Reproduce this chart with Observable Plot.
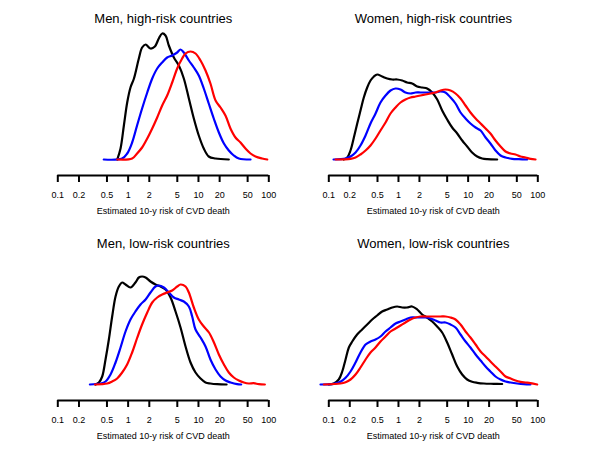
<!DOCTYPE html>
<html>
<head>
<meta charset="utf-8">
<script src="https://cdn.jsdelivr.net/npm/d3@7"></script>
<script src="https://cdn.jsdelivr.net/npm/@observablehq/plot@0.6"></script>
<style>
  body { margin: 0; background: #fff; }
  #chart { position: relative; width: 600px; height: 450px; background: #fff; }
  #chart svg { position: absolute; }
</style>
</head>
<body>
<div id="chart"></div>
<script>
// ---- Text ----
const panelTitles = ["Men, high-risk countries", "Women, high-risk countries", "Men, low-risk countries", "Women, low-risk countries"];
const xAxisLabel = "Estimated 10-y risk of CVD death";
const tickValues = [0.1, 0.2, 0.5, 1, 2, 5, 10, 20, 50, 100];
const tickLabels = ["0.1", "0.2", "0.5", "1", "2", "5", "10", "20", "50", "100"];
const seriesColors = ["#000000", "#0000ff", "#ff0000"];

// ---- Data: [risk %, density] ----
// Men, high-risk countries
const menHighBlack = [[0.70,0],[0.78,0.11],[0.87,0.34],[0.97,0.57],[1.08,0.72],[1.21,0.81],[1.42,1.01],[1.58,1.12],[1.77,1.15],[2.08,1.11],[2.40,1.13],[2.73,1.21],[3.05,1.26],[3.40,1.24],[3.79,1.14],[4.47,1.02],[5.26,0.94],[6.19,0.81],[7.30,0.61],[8.59,0.41],[10.1,0.24],[11.9,0.11],[14.0,0.03],[17.5,0.01],[27,0]];
const menHighBlue = [[0.45,0],[0.82,0.01],[0.97,0.06],[1.14,0.17],[1.34,0.34],[1.58,0.51],[1.87,0.67],[2.20,0.81],[2.59,0.91],[3.05,0.97],[3.59,1.02],[4.23,1.04],[4.98,1.07],[5.55,1.10],[6.19,1.07],[7.30,0.99],[8.59,0.92],[10.1,0.84],[11.9,0.71],[14.0,0.56],[16.5,0.41],[19.5,0.27],[23.0,0.16],[27.0,0.09],[31.8,0.04],[37.5,0.01],[55,0]];
const menHighRed = [[0.70,0],[1.14,0.01],[1.34,0.06],[1.58,0.12],[1.87,0.21],[2.20,0.31],[2.59,0.42],[3.05,0.54],[3.59,0.64],[4.23,0.77],[4.98,0.91],[5.86,1.01],[6.54,1.06],[7.71,1.08],[9.08,1.06],[10.7,0.99],[12.6,0.89],[14.8,0.76],[17.5,0.59],[20.6,0.52],[24.2,0.44],[28.5,0.31],[33.6,0.22],[39.6,0.17],[46.6,0.11],[55,0.06],[64.7,0.03],[80.5,0.01],[95,0]];
// Women, high-risk countries
const womenHighBlack = [[0.163,0],[0.184,0.02],[0.205,0.09],[0.229,0.22],[0.256,0.36],[0.285,0.49],[0.318,0.62],[0.356,0.72],[0.397,0.79],[0.444,0.83],[0.495,0.85],[0.583,0.83],[0.689,0.81],[0.813,0.80],[0.959,0.80],[1.13,0.79],[1.33,0.77],[1.57,0.76],[1.86,0.73],[2.19,0.72],[2.58,0.71],[3.05,0.67],[3.60,0.60],[4.24,0.49],[5.00,0.40],[5.90,0.32],[6.97,0.26],[8.22,0.19],[9.69,0.13],[11.4,0.07],[13.5,0.03],[15.9,0.01],[18.8,0.003],[26.1,0]];
const womenHighBlue = [[0.117,0],[0.174,0.01],[0.205,0.03],[0.242,0.07],[0.285,0.14],[0.337,0.24],[0.397,0.36],[0.469,0.46],[0.552,0.57],[0.652,0.64],[0.769,0.69],[0.908,0.71],[1.07,0.70],[1.26,0.67],[1.49,0.66],[1.76,0.67],[2.07,0.67],[2.45,0.67],[2.89,0.67],[3.40,0.67],[4.01,0.68],[4.73,0.67],[5.59,0.62],[6.59,0.56],[7.78,0.47],[9.17,0.41],[10.8,0.36],[12.8,0.32],[15.1,0.29],[17.8,0.22],[20.9,0.16],[24.7,0.09],[29.2,0.04],[34.4,0.02],[42.9,0.007],[53.5,0.003],[70.5,0]];
const womenHighRed = [[0.125,0],[0.205,0.007],[0.242,0.02],[0.285,0.05],[0.337,0.09],[0.397,0.14],[0.469,0.21],[0.552,0.29],[0.652,0.37],[0.769,0.46],[0.908,0.52],[1.07,0.57],[1.26,0.60],[1.49,0.62],[1.76,0.63],[2.07,0.64],[2.45,0.65],[2.89,0.66],[3.40,0.67],[4.01,0.69],[4.73,0.70],[5.59,0.69],[6.59,0.66],[7.78,0.61],[9.17,0.54],[10.8,0.47],[12.8,0.41],[15.1,0.36],[17.8,0.31],[20.9,0.26],[24.7,0.19],[29.2,0.13],[34.4,0.08],[40.6,0.06],[47.9,0.05],[56.5,0.03],[66.7,0.02],[78.7,0.007],[92.8,0]];
// Men, low-risk countries
const menLowBlack = [[0.344,0],[0.384,0.02],[0.428,0.08],[0.477,0.25],[0.532,0.45],[0.593,0.68],[0.662,0.88],[0.738,0.98],[0.822,1.02],[0.918,1.00],[1.08,0.97],[1.27,1.02],[1.42,1.07],[1.58,1.08],[1.77,1.07],[2.08,1.03],[2.45,1.00],[2.89,0.98],[3.40,0.95],[4.01,0.87],[4.72,0.73],[5.56,0.57],[6.55,0.38],[7.71,0.22],[9.08,0.12],[10.7,0.06],[12.6,0.02],[14.8,0.01],[18.5,0.003],[25.1,0]];
const menLowBlue = [[0.286,0],[0.405,0.01],[0.477,0.03],[0.562,0.10],[0.662,0.22],[0.780,0.37],[0.918,0.53],[1.08,0.65],[1.27,0.73],[1.50,0.80],[1.77,0.85],[2.08,0.92],[2.45,0.98],[2.73,0.99],[3.22,0.97],[3.79,0.92],[4.47,0.87],[5.26,0.85],[6.19,0.83],[7.30,0.78],[8.14,0.68],[9.08,0.55],[10.7,0.47],[12.6,0.38],[14.8,0.25],[17.5,0.15],[20.6,0.08],[24.3,0.04],[28.6,0.02],[35.5,0.003],[40.5,0]];
const menLowRed = [[0.337,0],[0.504,0.01],[0.593,0.03],[0.698,0.06],[0.822,0.12],[0.968,0.20],[1.14,0.32],[1.35,0.47],[1.58,0.60],[1.87,0.72],[2.20,0.82],[2.59,0.87],[3.05,0.90],[3.59,0.92],[4.23,0.94],[4.98,0.98],[5.56,1.00],[6.55,0.98],[7.30,0.92],[8.59,0.77],[10.1,0.65],[11.9,0.58],[14.1,0.52],[16.6,0.42],[19.5,0.30],[23.0,0.20],[27.0,0.12],[31.8,0.07],[37.5,0.04],[44.2,0.02],[52.0,0.01],[61.2,0.013],[72.2,0.003],[87.9,0]];
// Women, low-risk countries
const womenLowBlack = [[0.100,0],[0.118,0.01],[0.139,0.05],[0.156,0.13],[0.174,0.25],[0.194,0.37],[0.217,0.43],[0.255,0.50],[0.301,0.55],[0.356,0.60],[0.420,0.65],[0.494,0.69],[0.583,0.73],[0.689,0.75],[0.813,0.77],[0.958,0.78],[1.13,0.77],[1.33,0.77],[1.57,0.78],[1.86,0.75],[2.19,0.70],[2.58,0.67],[3.05,0.63],[3.59,0.58],[4.24,0.52],[5.00,0.42],[5.90,0.30],[6.97,0.18],[8.21,0.10],[9.68,0.05],[11.4,0.027],[13.5,0.017],[16.8,0.01],[23.4,0.007],[30.8,0.005]];
const womenLowBlue = [[0.076,0],[0.118,0.007],[0.147,0.027],[0.174,0.067],[0.205,0.13],[0.242,0.22],[0.285,0.32],[0.337,0.40],[0.397,0.43],[0.468,0.45],[0.552,0.48],[0.652,0.53],[0.769,0.57],[0.908,0.61],[1.07,0.63],[1.26,0.65],[1.49,0.67],[1.76,0.67],[2.07,0.67],[2.44,0.67],[2.88,0.66],[3.40,0.64],[4.01,0.62],[4.73,0.62],[5.58,0.60],[6.59,0.57],[7.78,0.50],[9.17,0.43],[10.8,0.37],[12.8,0.30],[15.1,0.24],[17.8,0.18],[20.9,0.13],[24.7,0.08],[29.2,0.05],[34.4,0.03],[40.6,0.02],[50.6,0.01],[63.1,0.003],[78.5,0]];
const womenLowRed = [[0.085,0],[0.147,0.01],[0.174,0.023],[0.205,0.05],[0.242,0.10],[0.285,0.17],[0.337,0.25],[0.397,0.32],[0.468,0.37],[0.552,0.43],[0.652,0.48],[0.769,0.53],[0.908,0.56],[1.07,0.59],[1.26,0.62],[1.49,0.65],[1.76,0.67],[2.07,0.68],[2.44,0.68],[2.88,0.68],[3.40,0.68],[4.01,0.68],[4.73,0.68],[5.58,0.67],[6.59,0.65],[7.78,0.60],[9.17,0.53],[10.8,0.47],[12.8,0.40],[15.1,0.33],[17.8,0.28],[20.9,0.23],[24.7,0.18],[29.2,0.13],[34.4,0.08],[40.6,0.06],[47.9,0.04],[56.5,0.027],[66.7,0.02],[78.5,0.013],[98,0]];

const panelSeries = [
  [menHighBlack, menHighBlue, menHighRed],
  [womenHighBlack, womenHighBlue, womenHighRed],
  [menLowBlack, menLowBlue, menLowRed],
  [womenLowBlack, womenLowBlue, womenLowRed]
];

// ---- Layout ----
const yBottom = -0.16, yTop = 1.3, tickLen = 0.07;
const font = "'Liberation Sans', Arial, Helvetica, sans-serif";

function makePanel(i) {
  const leftCol = i % 2 === 0;
  const marks = [
    // axis line from first to last tick
    Plot.ruleY([yBottom], {x1: tickValues[0], x2: tickValues[tickValues.length - 1], stroke: "#000", strokeWidth: 2}),
    // tick marks
    Plot.ruleX(tickValues, {x: (d) => d, y1: yBottom, y2: yBottom - tickLen, stroke: "#000", strokeWidth: 2}),
    // tick labels
    Plot.text(tickValues, {x: (d) => d, text: (d, j) => tickLabels[j], frameAnchor: "bottom", dy: 16, lineAnchor: "top", fontSize: 9, fill: "#000"}),
    // axis title
    Plot.text([xAxisLabel], {text: (d) => d, frameAnchor: "bottom", dy: 38.5, lineAnchor: "bottom", fontSize: 9, fill: "#000"}),
    // panel title
    Plot.text([panelTitles[i]], {text: (d) => d, frameAnchor: "top", dy: -7, lineAnchor: "bottom", fontSize: 13, fill: "#000"})
  ];
  panelSeries[i].forEach((s, k) => {
    marks.push(Plot.line(s, {x: (d) => d[0], y: (d) => d[1], stroke: seriesColors[k], strokeWidth: 2.2, curve: "catmull-rom"}));
  });
  const svg = Plot.plot({
    width: 300,
    height: 225,
    marginLeft: leftCol ? 57.3 : 28.3,
    marginRight: leftCol ? 31.7 : 62.7,
    marginTop: 29,
    marginBottom: 50,
    x: {type: "log", domain: [0.1, 100], axis: null},
    y: {domain: [yBottom, yTop], axis: null},
    style: {fontFamily: font, fontSize: "9px", color: "#000", background: "transparent", overflow: "visible"},
    marks
  });
  svg.style.left = (leftCol ? 0 : 300) + "px";
  svg.style.top = (i < 2 ? 0 : 225) + "px";
  return svg;
}

const chart = document.getElementById("chart");
for (let i = 0; i < 4; i++) chart.appendChild(makePanel(i));
</script>
</body>
</html>
